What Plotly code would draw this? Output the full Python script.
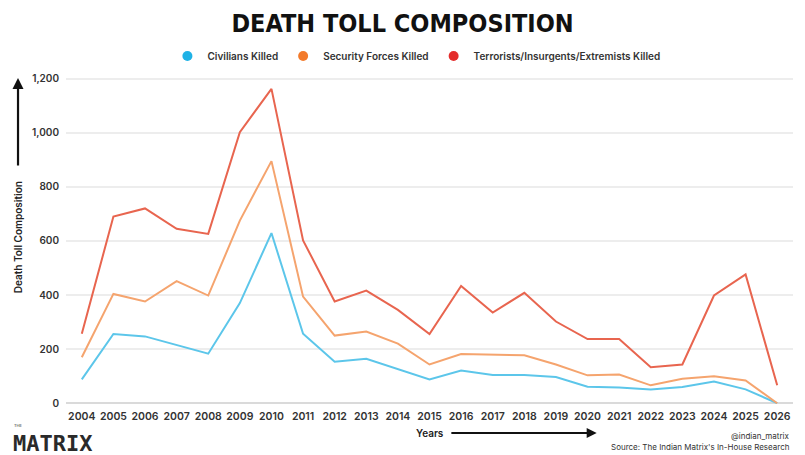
import plotly.graph_objects as go

years = list(range(2004, 2027))
civilians = [88, 256, 247, 216, 183, 370, 629, 257, 153, 164, 127, 88, 121, 104, 104, 97, 61, 58, 51, 60, 80, 51, 0]
security = [82, 148, 129, 235, 215, 305, 266, 137, 97, 101, 93, 55, 61, 76, 73, 46, 42, 48, 15, 30, 20, 33, 0]
terrorists = [87, 286, 344, 194, 228, 327, 267, 208, 126, 151, 125, 113, 251, 155, 231, 159, 134, 131, 67, 53, 298, 392, 66]
series_names = ["Civilians Killed", "Security Forces Killed", "Terrorists/Insurgents/Extremists Killed"]
line_colors = ["#5CC6EA", "#F5A46E", "#E8654F"]
legend_colors = ["#1FB2E6", "#F37A2A", "#E42D2C"]
y_ticks = [0, 200, 400, 600, 800, 1000, 1200]

LABEL_FONT = "Inter, Lato, 'Noto Sans', sans-serif"

fig = go.Figure()
for name, vals, col in zip(series_names, [civilians, security, terrorists], line_colors):
    fig.add_trace(go.Scatter(
        x=years, y=vals, name=name, mode="lines", stackgroup="one", fill="none",
        line=dict(color=col, width=2), showlegend=False, hoverinfo="x+y",
    ))
for name, col in zip(series_names, legend_colors):
    fig.add_trace(go.Scatter(
        x=[None], y=[None], name=name, mode="markers",
        marker=dict(color=col, size=10, symbol="circle"), showlegend=True,
    ))

# The page body adds an 8px margin, so the figure is sized to fit inside the window.
fig.update_layout(
    width=797, height=447,
    margin=dict(l=58, r=12, t=69, b=51, autoexpand=False),
    paper_bgcolor="white", plot_bgcolor="white",
    font=dict(family=LABEL_FONT, color="#222"),
    title=dict(
        text="DEATH TOLL COMPOSITION", x=0.495, xanchor="center", y=0.985, yanchor="top",
        font=dict(family="'DejaVu Sans Condensed', 'DejaVu Sans', sans-serif", size=25, color="#111", weight=900),
    ),
    legend=dict(
        orientation="h", x=0.482, xanchor="center", y=1.064, yanchor="middle",
        font=dict(size=10, color="#333", family=LABEL_FONT, weight=600),
        itemwidth=30, tracegroupgap=0, bgcolor="rgba(0,0,0,0)",
    ),
    xaxis=dict(
        range=[2003.5, 2026.5], tickvals=years, ticktext=[str(y) for y in years],
        showgrid=False, zeroline=False, showline=False, ticks="", ticklabelstandoff=4,
        tickfont=dict(size=10.5, color="#333", family=LABEL_FONT, weight=600),
    ),
    yaxis=dict(
        range=[-3, 1206], tickvals=y_ticks, tickformat=",",
        showgrid=True, gridcolor="#EDEDED", gridwidth=2,
        zeroline=True, zerolinecolor="#DADADA", zerolinewidth=2,
        showline=False, ticks="", ticklabelstandoff=6,
        tickfont=dict(size=10, color="#333", family=LABEL_FONT, weight=600),
    ),
)

XD, YD = "x domain", "y domain"

# Axis titles with arrows
fig.add_annotation(
    xref=XD, yref=YD, x=-0.066, y=0.51, text="Death Toll Composition",
    textangle=-90, showarrow=False, font=dict(size=10, color="#222", family=LABEL_FONT, weight=600),
    xanchor="center", yanchor="middle",
)
fig.add_annotation(
    xref=XD, yref=YD, x=-0.066, y=0.997, ax=-0.066, ay=0.725,
    axref=XD, ayref=YD, text="", showarrow=True,
    arrowhead=2, arrowsize=1, arrowwidth=2.2, arrowcolor="#111",
)
fig.add_annotation(
    xref=XD, yref=YD, x=0.5, y=-0.089, text="Years",
    showarrow=False, font=dict(size=10, color="#222", family=LABEL_FONT, weight=600),
    xanchor="center", yanchor="middle",
)
fig.add_annotation(
    xref=XD, yref=YD, x=0.73, y=-0.089, ax=0.528, ay=-0.089,
    axref=XD, ayref=YD, text="", showarrow=True,
    arrowhead=2, arrowsize=1, arrowwidth=2, arrowcolor="#111",
)

# Credits
fig.add_annotation(
    xref="paper", yref="paper", x=0.9986, y=-0.098, text="@indian_matrix",
    showarrow=False, xanchor="right", yanchor="middle",
    font=dict(size=8, color="#333", family=LABEL_FONT),
)
fig.add_annotation(
    xref="paper", yref="paper", x=0.9986, y=-0.1315, text="Source: The Indian Matrix's In-House Research",
    showarrow=False, xanchor="right", yanchor="middle",
    font=dict(size=8, color="#333", family=LABEL_FONT),
)

# Logo
fig.add_annotation(
    xref="paper", yref="paper", x=-0.076, y=-0.12, text="MATRIX",
    showarrow=False, xanchor="left", yanchor="middle",
    font=dict(size=22, color="#2A2A2A", family="'DejaVu Sans Mono', monospace", weight=700),
)
fig.add_annotation(
    xref="paper", yref="paper", x=-0.074, y=-0.066, text="THE",
    showarrow=False, xanchor="left", yanchor="middle",
    font=dict(size=4, color="#2A2A2A", family=LABEL_FONT),
)

fig.write_html("out.html")
